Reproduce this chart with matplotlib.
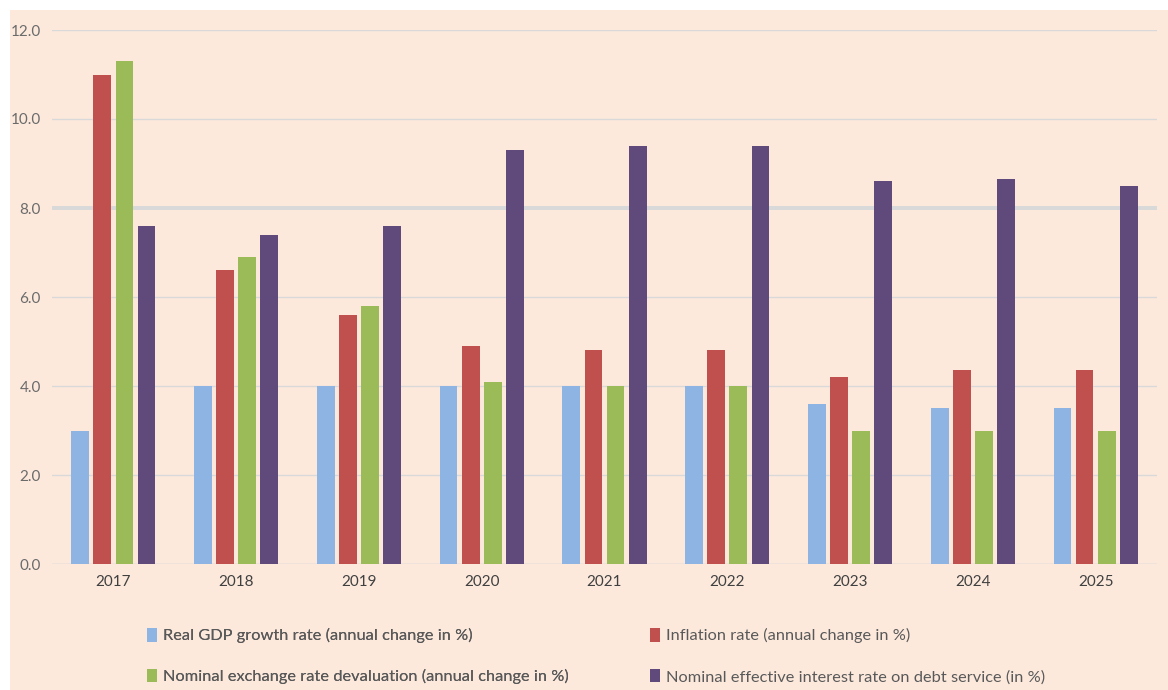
import matplotlib
matplotlib.use("Agg")
from matplotlib import pyplot as plt
from matplotlib.patches import Rectangle, Patch
import numpy as np

years = ["2017", "2018", "2019", "2020", "2021", "2022", "2023", "2024", "2025"]
gdp_growth = [3.0, 4.0, 4.0, 4.0, 4.0, 4.0, 3.6, 3.5, 3.5]
inflation = [11.0, 6.6, 5.6, 4.9, 4.8, 4.8, 4.2, 4.35, 4.35]
devaluation = [11.3, 6.9, 5.8, 4.1, 4.0, 4.0, 3.0, 3.0, 3.0]
interest_rate = [7.6, 7.4, 7.6, 9.3, 9.4, 9.4, 8.6, 8.65, 8.5]

labels = [
  "Real GDP growth rate (annual change in %)",
  "Inflation rate (annual change in %)",
  "Nominal exchange rate devaluation (annual change in %)",
  "Nominal effective interest rate on debt service (in %)",
]
colors = ["#8EB4E3", "#C0504D", "#9BBB59", "#604A7B"]

BG = "#FCE9DC"
TXT = "#595959"

plt.rcParams["font.family"] = ["Lato", "DejaVu Sans"]

fig = plt.figure(figsize=(11.68, 6.9), dpi=100)
fig.patch.set_facecolor("white")
fig.patches.append(Rectangle((10/1168, 0), 1 - 10/1168, 1 - 10/690, transform=fig.transFigure,
                             facecolor=BG, edgecolor="none", zorder=-10))

ax = fig.add_axes([52/1168, 1 - 564/690, (1157 - 52)/1168, (564 - 30)/690])
ax.set_facecolor(BG)

x = np.arange(len(years))
series = [gdp_growth, inflation, devaluation, interest_rate]
step = 0.18
width = 0.145
for i, (vals, c) in enumerate(zip(series, colors)):
  ax.bar(x + (i - 1.5) * step, vals, width=width, color=c, zorder=3)

ax.set_xlim(-0.5, len(years) - 0.5)
ax.set_ylim(0, 12)
ax.set_yticks(np.arange(0, 12.1, 2))
ax.set_yticklabels([f"{v:.1f}" for v in np.arange(0, 12.1, 2)])
ax.set_xticks(x)
ax.set_xticklabels(years)
ax.tick_params(axis="both", length=0, labelsize=11, colors=TXT)
ax.tick_params(axis="x", pad=8, labelcolor="#404040")
ax.tick_params(axis="y", pad=8, labelcolor="#6b6b6b")

ax.grid(axis="y", color="#D9D9D9", linewidth=1, zorder=0)
for gl, v in zip(ax.get_ygridlines(), np.arange(0, 12.1, 2)):
  if v == 8:
    gl.set_linewidth(2.8)
for s in ax.spines.values():
  s.set_visible(False)
ax.axhline(0, color="#D9D9D9", linewidth=1, zorder=2)

handles = [Patch(facecolor=c) for c in colors]
leg_kw = dict(loc="upper left", frameon=False, fontsize=11.8, labelcolor=TXT,
              handlelength=0.6, handleheight=0.9, handletextpad=0.4, labelspacing=1.55,
              borderpad=0, borderaxespad=0)
leg1 = fig.legend([handles[0], handles[2]], [labels[0], labels[2]],
                  bbox_to_anchor=(147/1168, 1 - 628/690), **leg_kw)
fig.legend([handles[1], handles[3]], [labels[1], labels[3]],
           bbox_to_anchor=(650/1168, 1 - 628/690), **leg_kw)
fig.add_artist(leg1)

fig.savefig("out.png", dpi=100, facecolor=fig.get_facecolor())
